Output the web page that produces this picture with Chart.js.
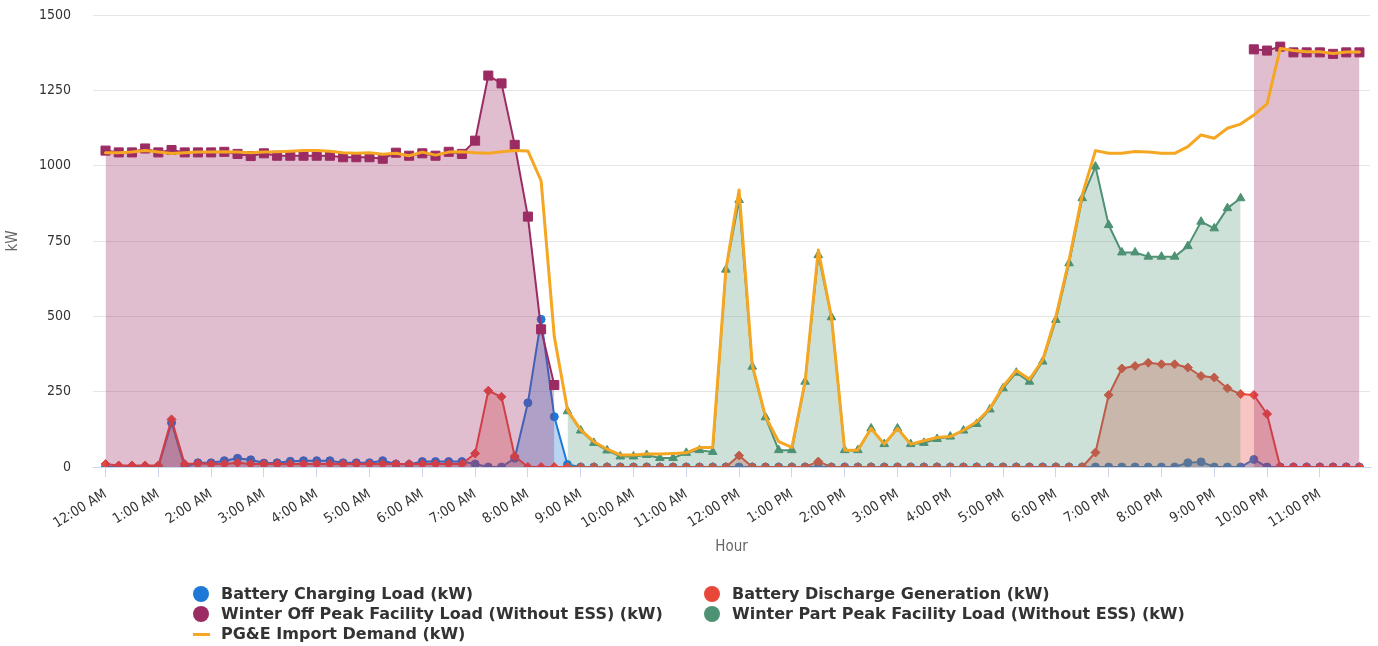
<!DOCTYPE html>
<html>
<head>
<meta charset="utf-8">
<script src="https://cdn.jsdelivr.net/npm/chart.js@4.4.1/dist/chart.umd.min.js"></script>
<style>
  body { margin: 0; background: #fff; }
  #wrap { position: relative; width: 1378px; height: 646px; }
  #legend { position: absolute; left: 0; top: 0; width: 1378px; height: 646px; pointer-events: none;
            font: bold 16px "DejaVu Sans", sans-serif; color: #333; }
  .item { position: absolute; height: 20px; line-height: 20px; white-space: nowrap; }
  .dot { position: absolute; left: 0; top: 2px; width: 16px; height: 16px; border-radius: 50%; }
  .dash { position: absolute; left: 0; top: 9px; width: 17px; height: 3px; }
  .txt { position: absolute; left: 28px; top: 0; }
</style>
</head>
<body>
<div id="wrap">
  <canvas id="chart" width="1378" height="646"></canvas>
  <div id="legend"></div>
</div>
<script>
// hourly tick labels, one slot every 15 minutes (96 slots)
var hours = ['12:00 AM', '1:00 AM', '2:00 AM', '3:00 AM', '4:00 AM', '5:00 AM', '6:00 AM', '7:00 AM',
  '8:00 AM', '9:00 AM', '10:00 AM', '11:00 AM', '12:00 PM', '1:00 PM', '2:00 PM', '3:00 PM',
  '4:00 PM', '5:00 PM', '6:00 PM', '7:00 PM', '8:00 PM', '9:00 PM', '10:00 PM', '11:00 PM'];
var slots = [];
for (var i = 0; i < 96; i++) slots.push(i);

var charging = [
  0, 0, 0, 0, 0, 147, 0, 14, 14, 21, 29, 24, 13, 14, 19, 21,
  21, 21, 14, 14, 14, 21, 10, 8, 18, 18, 18, 18, 10, 0, 0, 29,
  213, 490, 167, 8, 0, 0, 0, 0, 0, 0, 0, 0, 0, 0, 0, 0,
  0, 0, 0, 0, 0, 0, 0, 0, 0, 0, 0, 0, 0, 0, 0, 0,
  0, 0, 0, 0, 0, 0, 0, 0, 0, 0, 0, 0, 0, 0, 0, 0,
  0, 0, 14, 17, 0, 0, 0, 25, 0, 0, 0, 0, 0, 0, 0, 0
];
var discharge = [
  10, 5, 5, 5, 5, 158, 10, 12, 10, 10, 14, 10, 10, 10, 10, 10,
  10, 10, 10, 10, 10, 10, 10, 10, 10, 10, 10, 10, 45, 253, 233, 36,
  0, 0, 0, 0, 0, 0, 0, 0, 0, 0, 0, 0, 0, 0, 0, 0,
  38, 0, 0, 0, 0, 0, 18, 0, 0, 0, 0, 0, 0, 0, 0, 0,
  0, 0, 0, 0, 0, 0, 0, 0, 0, 0, 0, 48, 239, 327, 335, 346,
  341, 341, 330, 302, 297, 261, 242, 239, 176, 0, 0, 0, 0, 0, 0, 0
];
var offPeak = [
  1050, 1044, 1044, 1057, 1044, 1052, 1044, 1044, 1044, 1046, 1039, 1032, 1041, 1033, 1033, 1033,
  1033, 1033, 1028, 1028, 1028, 1023, 1043, 1033, 1041, 1033, 1046, 1039, 1083, 1299, 1273, 1069,
  831, 457, 272, null, null, null, null, null, null, null, null, null, null, null, null, null,
  null, null, null, null, null, null, null, null, null, null, null, null, null, null, null, null,
  null, null, null, null, null, null, null, null, null, null, null, null, null, null, null, null,
  null, null, null, null, null, null, null, 1386, 1382, 1395, 1376, 1376, 1376, 1371, 1376, 1376
];
var partPeak = [
  null, null, null, null, null, null, null, null, null, null, null, null, null, null, null, null,
  null, null, null, null, null, null, null, null, null, null, null, null, null, null, null, null,
  null, null, null, 185, 121, 80, 55, 35, 35, 40, 30, 30, 47, 56, 50, 655,
  886, 333, 165, 56, 56, 283, 703, 497, 56, 56, 128, 76, 128, 76, 80, 93,
  101, 121, 143, 191, 261, 313, 283, 350, 488, 676, 892, 997, 803, 712, 712, 698,
  698, 698, 733, 814, 792, 859, 892, null, null, null, null, null, null, null, null, null
];
var importDemand = [
  1043, 1043, 1045, 1050, 1045, 1040, 1043, 1045, 1045, 1046, 1045, 1043, 1045, 1046, 1048, 1050,
  1050, 1048, 1043, 1041, 1043, 1038, 1041, 1033, 1045, 1035, 1045, 1046, 1043, 1041, 1046, 1050,
  1049, 950, 432, 189, 123, 84, 59, 40, 40, 43, 43, 45, 47, 65, 65, 655,
  919, 338, 167, 84, 65, 283, 720, 497, 56, 56, 128, 76, 128, 76, 87, 98,
  101, 122, 150, 194, 267, 320, 291, 355, 499, 687, 903, 1050, 1041, 1041, 1047, 1045,
  1041, 1041, 1063, 1102, 1091, 1124, 1138, 1168, 1205, 1389, 1382, 1378, 1378, 1372, 1377, 1377
];

var names = ['Battery Charging Load (kW)', 'Battery Discharge Generation (kW)',
  'Winter Off Peak Facility Load (Without ESS) (kW)', 'Winter Part Peak Facility Load (Without ESS) (kW)',
  'PG&E Import Demand (kW)'];
var colors = ['#1e78d8', '#e8483a', '#9b2c63', '#4e9274', '#f5a623'];
var fills = ['rgba(30,120,216,0.32)', 'rgba(232,72,58,0.31)', 'rgba(155,44,99,0.31)', 'rgba(78,146,116,0.28)'];

var tickFont = { family: '"DejaVu Sans Condensed", "DejaVu Sans", sans-serif', size: 14 };
var titleFont = { family: '"DejaVu Sans Condensed", "DejaVu Sans", sans-serif', size: 15 };

function areaSet(k, values, shape, radius) {
  return {
    label: names[k],
    data: values,
    borderColor: colors[k],
    backgroundColor: fills[k],
    fill: 'origin',
    borderWidth: 2,
    borderJoinStyle: 'round',
    pointStyle: shape,
    pointRadius: radius,
    pointBackgroundColor: colors[k],
    pointBorderColor: colors[k],
    pointBorderWidth: 1,
    order: 5 - k,
    spanGaps: false,
    tension: 0
  };
}

var ctx = document.getElementById('chart').getContext('2d');
var myChart = new Chart(ctx, {
  type: 'line',
  data: {
    labels: slots,
    datasets: [
      areaSet(0, charging, 'circle', 4),
      areaSet(1, discharge, 'rectRot', 4.5),
      areaSet(2, offPeak, 'rect', 6.4),
      areaSet(3, partPeak, 'triangle', 5),
      {
        label: names[4],
        data: importDemand,
        borderColor: colors[4],
        borderWidth: 3,
        borderJoinStyle: 'round',
        borderCapStyle: 'round',
        pointRadius: 0,
        fill: false,
        order: 0,
        tension: 0
      }
    ]
  },
  options: {
    responsive: false,
    animation: false,
    devicePixelRatio: 1,
    layout: { padding: { top: 15, right: 8, bottom: 86, left: 0 } },
    plugins: { legend: { display: false }, tooltip: { enabled: false } },
    scales: {
      x: {
        type: 'linear',
        min: -0.95,
        max: 95.8,
        afterBuildTicks: function (scale) {
          scale.ticks = hours.map(function (h, n) { return { value: n * 4 }; });
        },
        afterFit: function (scale) { scale.height = 93; },
        ticks: {
          autoSkip: false,
          maxRotation: 32,
          minRotation: 32,
          padding: 9,
          color: '#333',
          font: tickFont,
          callback: function (v) { return hours[v / 4]; }
        },
        grid: { drawOnChartArea: false, drawTicks: true, tickLength: 10, color: '#ccd6eb' },
        border: { color: '#ccd6eb', width: 1 },
        title: { display: true, text: 'Hour', color: '#666', font: titleFont }
      },
      y: {
        min: 0,
        max: 1500,
        afterFit: function (scale) { scale.width = 93; },
        ticks: {
          stepSize: 250,
          padding: 2,
          color: '#333',
          font: tickFont,
          callback: function (v) { return String(v); }
        },
        grid: { color: '#e6e6e6', drawTicks: true, tickLength: 20, tickColor: 'rgba(0,0,0,0)' },
        border: { display: false },
        title: { display: true, text: 'kW', color: '#666', font: titleFont }
      }
    }
  }
});

// legend in two columns under the plot, as in the original
var legendPos = [[193, 584], [704, 584], [193, 604], [704, 604], [193, 624]];
var legend = document.getElementById('legend');
names.forEach(function (name, k) {
  var item = document.createElement('div');
  item.className = 'item';
  item.style.left = legendPos[k][0] + 'px';
  item.style.top = legendPos[k][1] + 'px';
  var sym = document.createElement('div');
  sym.className = k === 4 ? 'dash' : 'dot';
  sym.style.background = colors[k];
  var txt = document.createElement('div');
  txt.className = 'txt';
  txt.textContent = name;
  item.appendChild(sym);
  item.appendChild(txt);
  legend.appendChild(item);
});
</script>
</body>
</html>
